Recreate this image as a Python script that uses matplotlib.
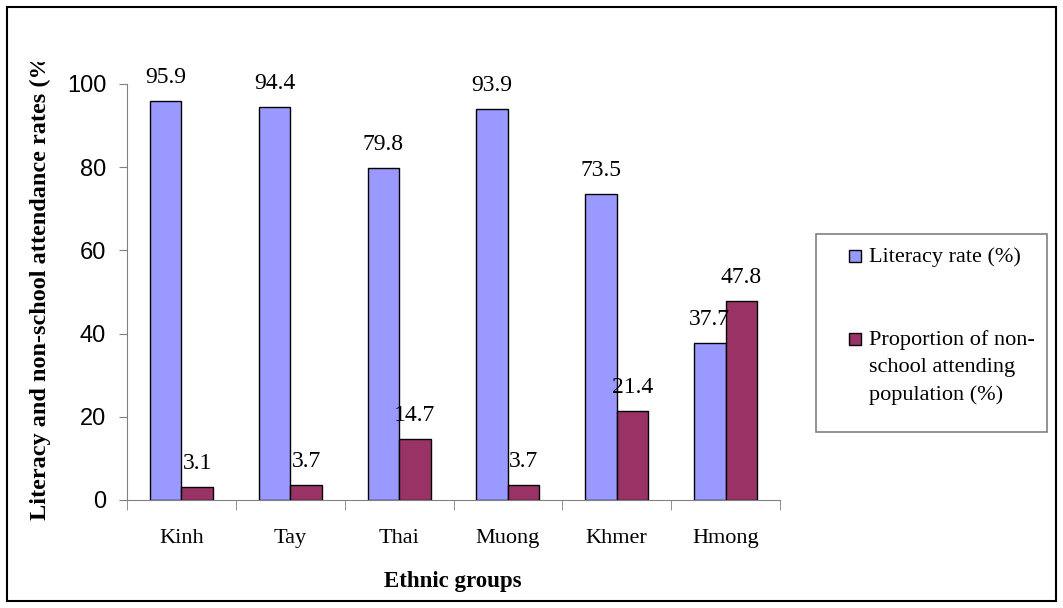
import matplotlib.pyplot as plt
from matplotlib.patches import Rectangle
from matplotlib.transforms import Bbox, TransformedBbox
import numpy as np

groups = ["Kinh", "Tay", "Thai", "Muong", "Khmer", "Hmong"]
literacy = [95.9, 94.4, 79.8, 93.9, 73.5, 37.7]
non_school = [3.1, 3.7, 14.7, 3.7, 21.4, 47.8]
yticks = [0, 20, 40, 60, 80, 100]

serif = "Liberation Serif"
sans = "Liberation Sans"
c_lit = "#9999FF"
c_non = "#993366"

fig = plt.figure(figsize=(10.63, 6.08), dpi=100)
W, H = 1063, 608
ax = fig.add_axes([127 / W, 1 - 500 / H, (780 - 127) / W, (500 - 84) / H])

x = np.arange(len(groups))
bw = 0.29
b1 = ax.bar(x - bw / 2, literacy, bw, color=c_lit, edgecolor="black", linewidth=1)
b2 = ax.bar(x + bw / 2, non_school, bw, color=c_non, edgecolor="black", linewidth=1)

for bars, vals in ((b1, literacy), (b2, non_school)):
    for b, v in zip(bars, vals):
        ax.annotate(f"{v:.1f}", (b.get_x() + b.get_width() / 2, v),
                    xytext=(0, 13), textcoords="offset points",
                    ha="center", va="baseline", fontsize=17, family=serif)

ax.set_xlim(-0.5, len(groups) - 0.5)
ax.set_ylim(0, 100)
ax.set_yticks(yticks)
ax.set_yticklabels([str(t) for t in yticks], fontsize=17, family=sans)
ax.set_xticks(x)
ax.set_xticklabels(groups, fontsize=16, family=serif)
ax.set_xticks(np.arange(len(groups) + 1) - 0.5, minor=True)
ax.tick_params(axis="x", which="major", length=0, pad=21)
ax.tick_params(axis="x", which="minor", length=7, color="#808080", direction="out")
ax.tick_params(axis="y", length=6, color="#808080", pad=9)

for s in ("top", "right"):
    ax.spines[s].set_visible(False)
for s in ("left", "bottom"):
    ax.spines[s].set_color("#808080")

fig.text(453 / W, 1 - 581 / H, "Ethnic groups", ha="center", va="center",
         fontsize=16.5, fontweight="bold", family=serif)
yl = fig.text(40 / W, 1 - 520 / H, "Literacy and non-school attendance rates (%)",
              ha="center", va="bottom", rotation=90, fontsize=17.5,
              fontweight="bold", family=serif)
# the original label runs past the chart area and is cut off at the top
yl.set_clip_box(TransformedBbox(Bbox([[0, 0], [1, 1 - 62 / H]]), fig.transFigure))
yl.set_clip_on(True)

# legend box
fig.patches.append(Rectangle((816 / W, 1 - 432 / H), (1047 - 816) / W, (432 - 234) / H,
                             transform=fig.transFigure, fill=False,
                             edgecolor="#808080", linewidth=1.2))
sq = 12
for yc, col, label in ((256, c_lit, "Literacy rate (%)"),
                       (339, c_non, "Proportion of non-\nschool attending\npopulation (%)")):
    fig.patches.append(Rectangle((849 / W, 1 - (yc + sq / 2) / H), sq / W, sq / H,
                                 transform=fig.transFigure, facecolor=col,
                                 edgecolor="black", linewidth=1))
    fig.text(869 / W, 1 - (yc - 9) / H, label, ha="left", va="top",
             fontsize=16, family=serif, linespacing=1.56)

# outer border
fig.patches.append(Rectangle((7 / W, 7 / H), (1056 - 7) / W, (601 - 7) / H,
                             transform=fig.transFigure, fill=False,
                             edgecolor="black", linewidth=1.5))

fig.savefig("out.png", dpi=100)
